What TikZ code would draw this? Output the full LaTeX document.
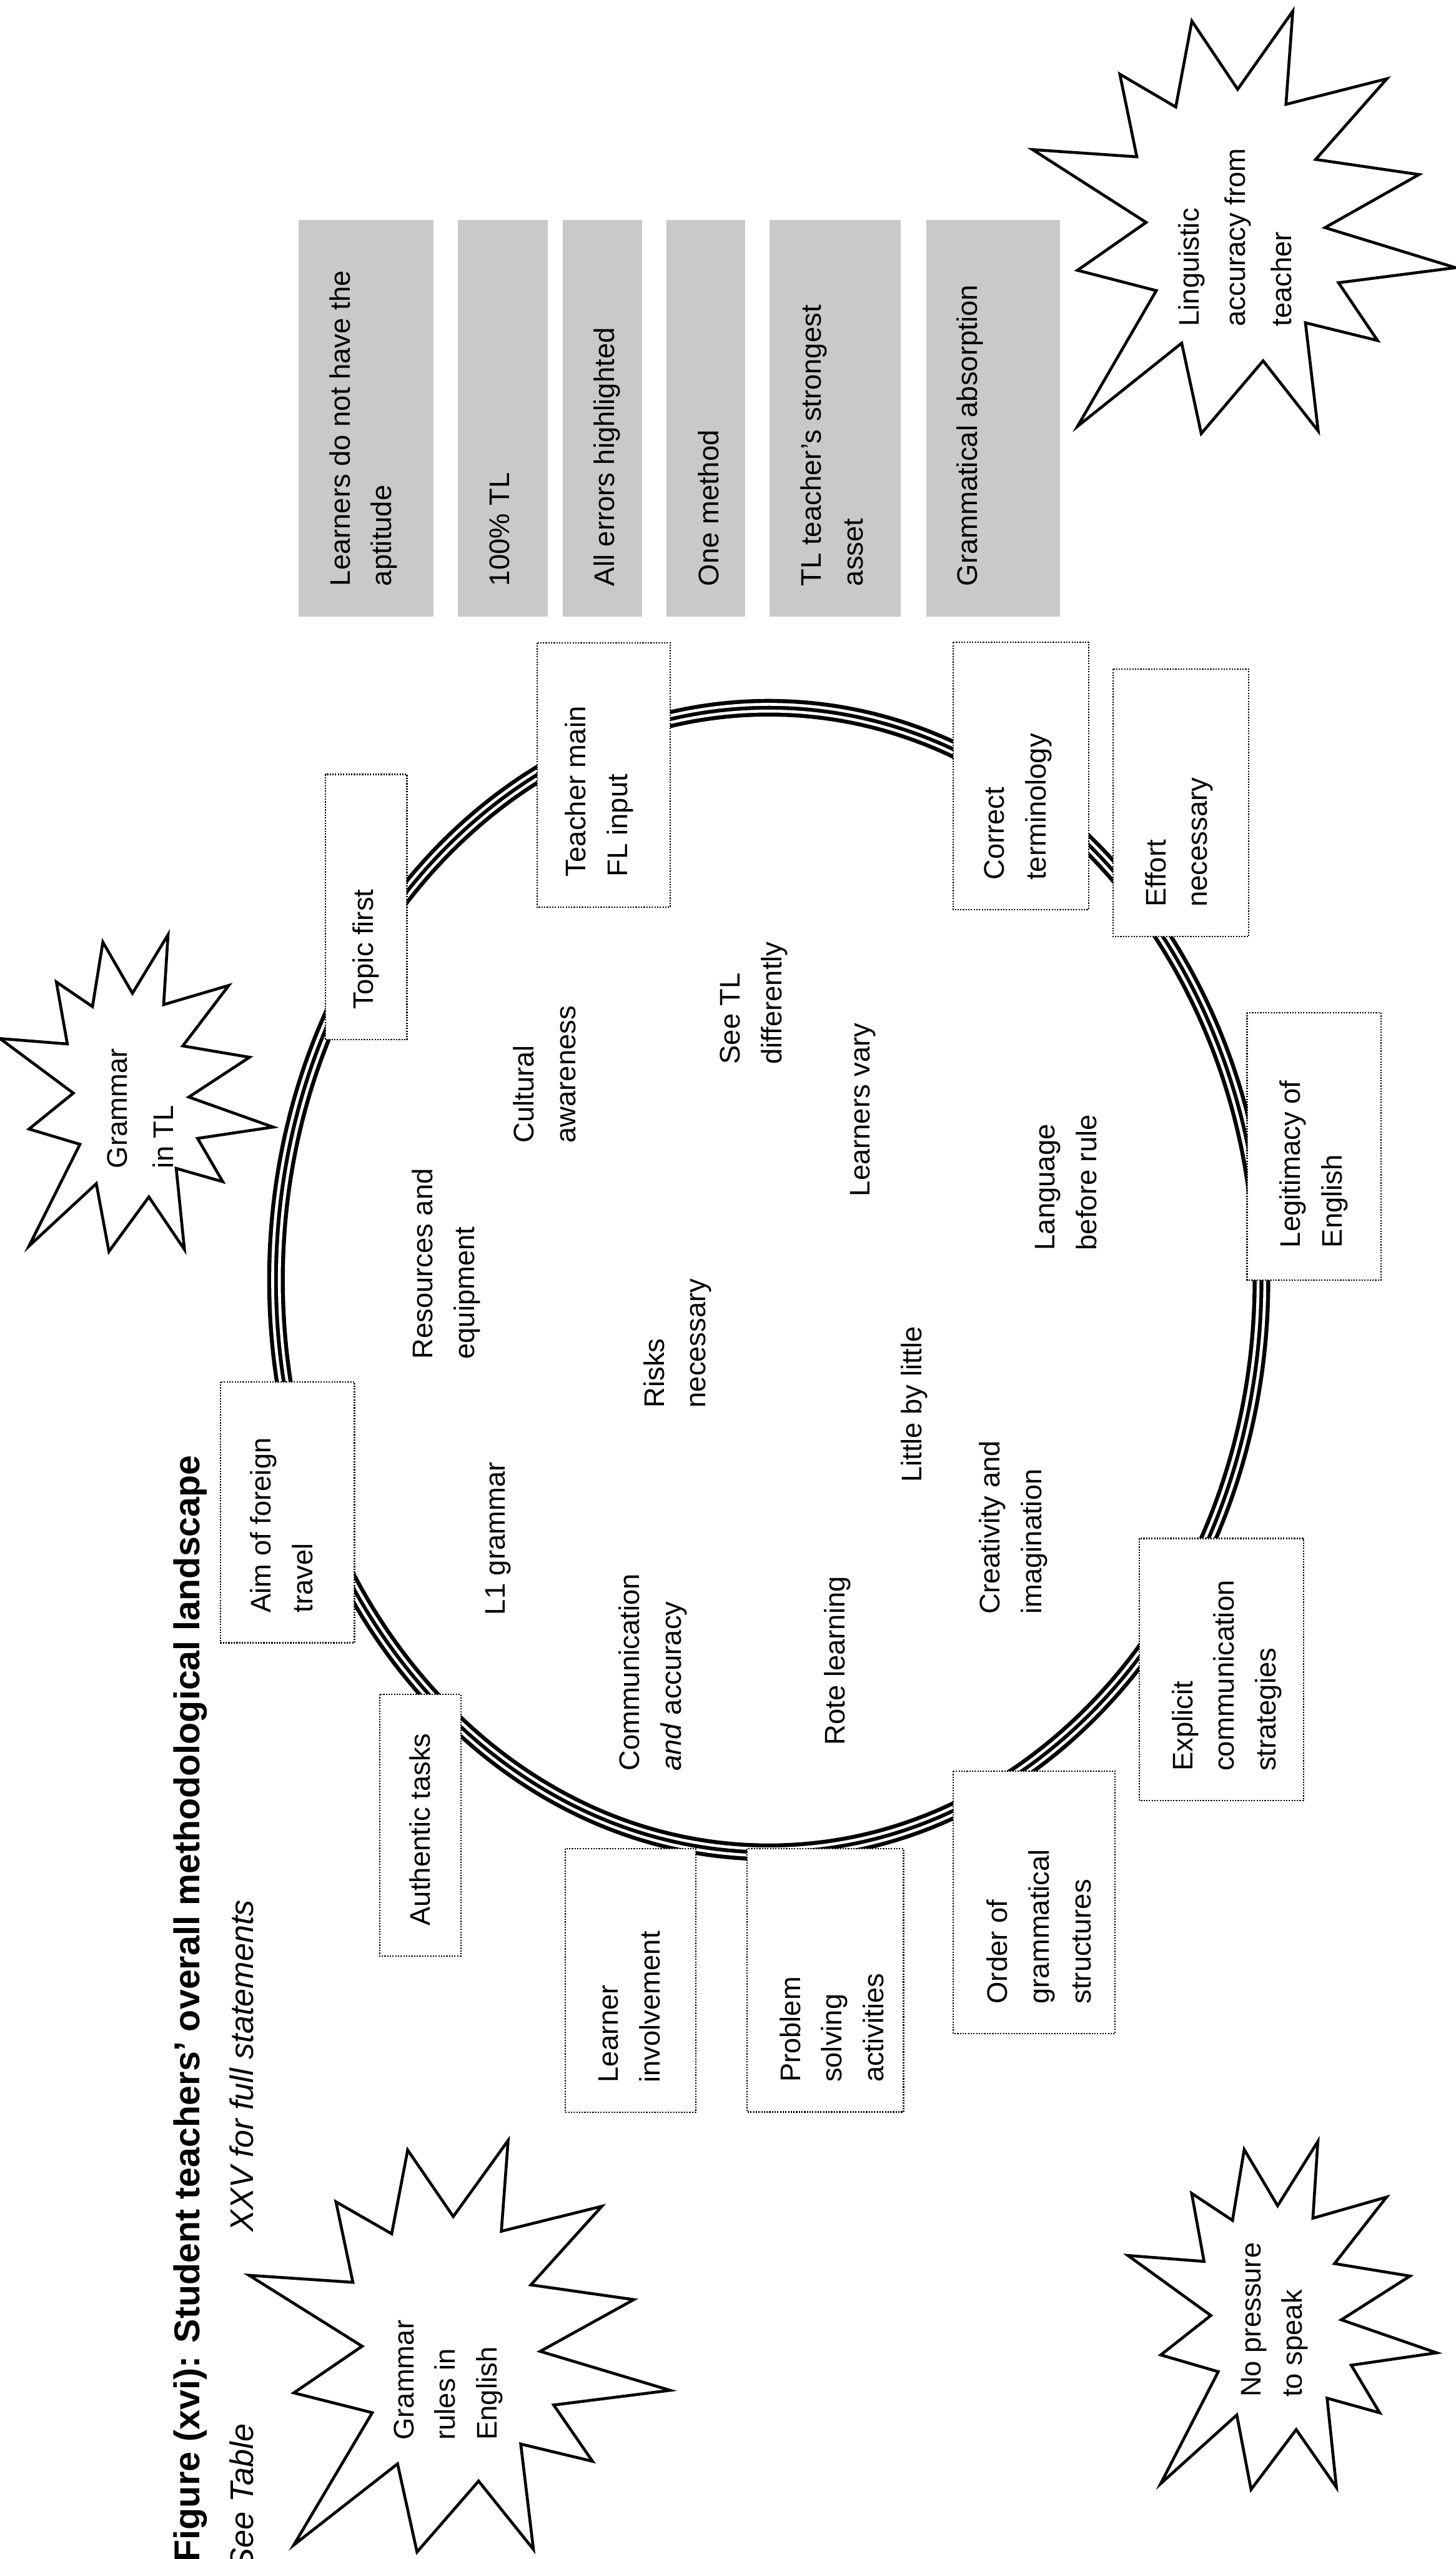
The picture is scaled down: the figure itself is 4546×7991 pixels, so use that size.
\documentclass[tikz,border=0pt]{standalone}
\usepackage{fontspec}
\setmainfont{Liberation Sans}
\definecolor{boxgray}{gray}{0.79}
\tikzset{
  lbl/.style={rotate=90, anchor=west, align=left, inner sep=0pt, font=\fontsize{25.2}{37}\selectfont},
  widelbl/.style={lbl, font=\fontsize{25.2}{41}\selectfont},
  dotbox/.style={draw=black, fill=white, line width=0.42mm, dash pattern=on 0.42mm off 0.42mm},
  graybox/.style={fill=boxgray, draw=none},
  burstline/.style={draw=black, fill=white, line width=0.9mm, line join=miter},
}
\newcommand\burstshape[4]{%
  \begin{scope}[shift={(#1,#2)}, xscale=#3/216, yscale=#4/216]
    \draw[burstline] (58,108) -- (0,70.78) -- (53.25,74.45) -- (44.57,32.20) -- (73.15,48.98) -- (81.37,5.03) -- (104.75,39.93) -- (132.90,0) -- (129.42,47.63) -- (180.95,34.55) -- (144.57,75.80) -- (197.37,83.53) -- (149.35,110.68) -- (216,131.15) -- (156.27,138.85) -- (176.17,168.38) -- (139.37,159.33) -- (145.87,214.65) -- (117.75,178.78) -- (86.15,216) -- (76.17,169.73) -- (22.95,212.30) -- (63.20,142.88) -- (22.95,132.48) -- cycle;
  \end{scope}}
\begin{document}
\begin{tikzpicture}[x=0.1mm, y=-0.1mm]
\fill[white] (0,0) rectangle (4546,7991);
\useasboundingbox (0,0) rectangle (4546,7991);

% ---- title ----
\node[rotate=90, anchor=base west, inner sep=0pt, font=\bfseries\fontsize{31.9}{38}\selectfont] (title) at (623,8000) {Figure (xvi): Student teachers' overall methodological landscape};
\node[rotate=90, anchor=base west, inner sep=0pt, font=\itshape\fontsize{29}{35}\selectfont] (seetable) at (792,8025) {See Table};
\node[rotate=90, anchor=base west, inner sep=0pt, font=\itshape\fontsize{29}{35}\selectfont] (xxv) at (792,6970) {XXV for full statements};

% ---- ring ----
\coordinate (ringc) at (2401,3997);
\draw[line width=5.5mm] (ringc) ellipse [x radius=153.9mm, y radius=178.7mm];
\draw[white, line width=0.9mm] (ringc) ellipse [x radius=154.95mm, y radius=179.75mm];
\draw[white, line width=0.9mm] (ringc) ellipse [x radius=152.85mm, y radius=177.65mm];

% ---- starbursts ----
\burstshape{0}{2919}{853}{989}
\node[widelbl] (gtl) at (438,3649) {Grammar\\in TL};
\burstshape{778}{6684}{1315}{1285}
\node[lbl] (gre) at (1400,7620) {Grammar\\rules in\\English};
\burstshape{3225}{35}{1321}{1319}
\node[widelbl] (lat) at (3858,1020) {Linguistic\\accuracy from\\teacher};
\burstshape{3523}{6687}{964}{1087}
\node[lbl] (nps) at (3981,7486) {No pressure\\to speak};

% ---- gray boxes ----
\fill[graybox] (933,687) rectangle (1353,1925);
\node[lbl] (g1) at (1135,1831) {Learners do not have the\\aptitude};
\fill[graybox] (1430,687) rectangle (1711,1925);
\node[lbl] (g2) at (1560,1831) {100\% TL};
\fill[graybox] (1757,687) rectangle (2006,1925);
\node[lbl] (g3) at (1895,1831) {All errors highlighted};
\fill[graybox] (2082,687) rectangle (2327,1925);
\node[lbl] (g4) at (2212,1831) {One method};
\fill[graybox] (2403,687) rectangle (2814,1925);
\node[lbl] (g5) at (2598,1831) {TL teacher's strongest\\asset};
\fill[graybox] (2894,687) rectangle (3310,1925);
\node[lbl] (g6) at (3030,1831) {Grammatical absorption};

% ---- dotted boxes ----
\draw[dotbox] (1016,2418) rectangle (1271,3247);
\node[lbl] (topic) at (1143,3152) {Topic first};
\draw[dotbox] (1677,2007) rectangle (2093,2833);
\node[lbl] (teacher) at (1871,2738) {Teacher main\\FL input};
\draw[dotbox] (2977,2006) rectangle (3400,2841);
\node[lbl] (correct) at (3180,2749) {Correct\\terminology};
\draw[dotbox] (3477,2090) rectangle (3900,2925);
\node[lbl] (effort) at (3683,2833) {Effort\\necessary};
\draw[dotbox] (3895,3162) rectangle (4313,3997);
\node[lbl] (legit) at (4103,3897) {Legitimacy of\\English};
\draw[dotbox] (3559,4804) rectangle (4071,5623);
\node[lbl] (explicit) at (3832,5531) {Explicit\\communication\\strategies};
\draw[dotbox] (2977,5531) rectangle (3483,6350);
\node[lbl] (order) at (3245,6258) {Order of\\grammatical\\structures};
\draw[dotbox] (2334,5773) rectangle (2822,6595);
\node[lbl] (problem) at (2598,6503) {Problem\\solving\\activities};
\draw[dotbox] (1766,5773) rectangle (2173,6596);
\node[lbl] (learner) at (1966,6504) {Learner\\involvement};
\draw[dotbox] (1186,5291) rectangle (1439,6108);
\node[lbl] (authentic) at (1312,6014) {Authentic tasks};
\draw[dotbox] (688,4315) rectangle (1107,5130);
\node[lbl] (aim) at (880,5037) {Aim of foreign\\travel};

% ---- texts inside the ring ----
\node[lbl] (resources) at (1393,4245) {Resources and\\equipment};
\node[lbl] (cultural) at (1701,3570) {Cultural\\awareness};
\node[lbl] (seetl) at (2354,3324) {See TL\\differently};
\node[lbl] (vary) at (2695,3737) {Learners vary};
\node[lbl] (risks) at (2116,4397) {Risks\\necessary};
\node[lbl] (language) at (3330,3905) {Language\\before rule};
\node[lbl] (lone) at (1556,5044) {L1 grammar};
\node[lbl] (comm) at (2039,5531) {Communication\\\textit{and} accuracy};
\node[lbl] (rote) at (2615,5450) {Rote learning};
\node[lbl] (little) at (2855,4630) {Little by little};
\node[lbl] (creativity) at (3165,5041) {Creativity and\\imagination};
\end{tikzpicture}
\end{document}
